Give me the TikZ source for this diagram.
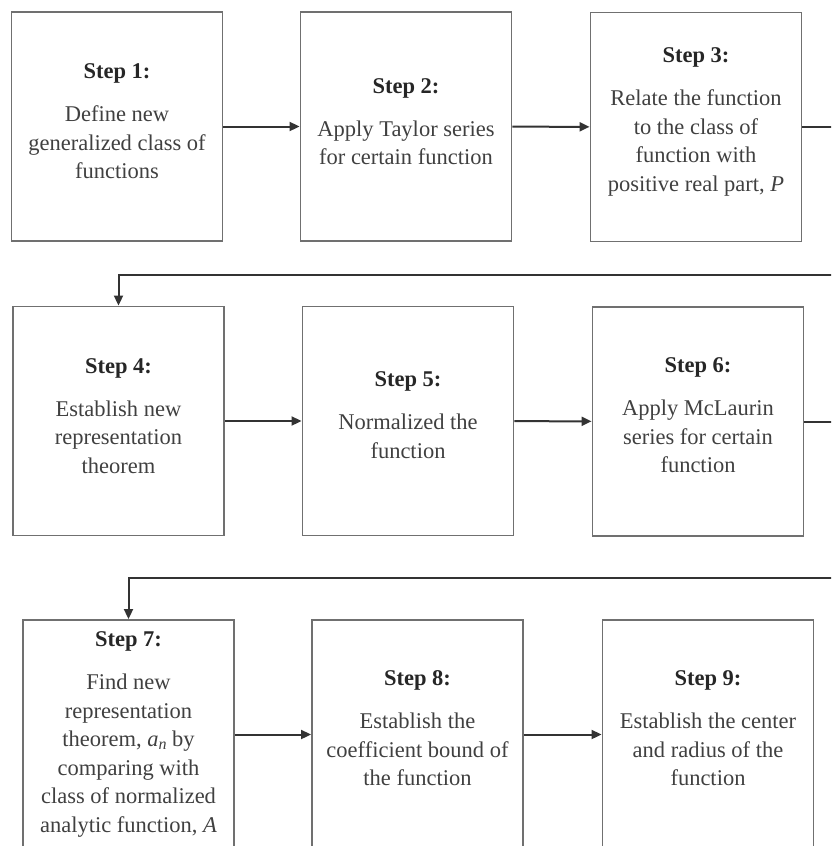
\documentclass[tikz,border=0pt]{standalone}
\usepackage{fontspec}
\setmainfont{Liberation Serif}
\usetikzlibrary{arrows.meta}
\definecolor{boxgray}{HTML}{707070}
\definecolor{linegray}{HTML}{333333}
\definecolor{txtgray}{HTML}{404040}
\definecolor{titlegray}{HTML}{262626}
\newcommand{\steptitle}[1]{\textcolor{titlegray}{\textbf{#1}}\\[14.5pt]}
\newcommand{\subidx}[2]{\textit{#1}\raisebox{-0.3ex}{\fontsize{16}{16}\selectfont\textit{#2}}}
\begin{document}
\begin{tikzpicture}[x=1pt,y=-1pt,
  stepbox/.style={draw=boxgray, line width=1.9pt, minimum width=211pt, minimum height=229pt, inner sep=0pt},
  steptext/.style={align=center, text=txtgray, font=\fontsize{22.5}{28.5}\selectfont, inner sep=0pt},
  conn/.style={draw=linegray, line width=2pt, -{Triangle[length=10pt,width=9pt]}}]
\useasboundingbox (0,0) rectangle (831,846);
\clip (0,0) rectangle (831,846);
% row 1
\node[stepbox] (s1) at (117,126.5) {};
\node[stepbox] (s2) at (406,126.5) {};
\node[stepbox] (s3) at (696,127) {};
% row 2
\node[stepbox] (s4) at (118.5,421) {};
\node[stepbox] (s5) at (408,421) {};
\node[stepbox] (s6) at (698,421.5) {};
% row 3
\node[stepbox] (s7) at (128.5,734.5) {};
\node[stepbox] (s8) at (417.5,734.5) {};
\node[stepbox] (s9) at (708,734.5) {};
% texts
\node[steptext, yshift=5pt] (t1) at (s1) {\steptitle{Step 1:}Define new\\generalized class of\\functions};
\node[steptext, yshift=5pt] (t2) at (s2) {\steptitle{Step 2:}Apply Taylor series\\for certain function};
\node[steptext, yshift=5pt] (t3) at (s3) {\steptitle{Step 3:}Relate the function\\to the class of\\function with\\positive real part, \textit{P}};
\node[steptext, yshift=5pt] (t4) at (s4) {\steptitle{Step 4:}Establish new\\representation\\theorem};
\node[steptext, yshift=6pt] (t5) at (s5) {\steptitle{Step 5:}Normalized the\\function};
\node[steptext, yshift=6pt] (t6) at (s6) {\steptitle{Step 6:}Apply McLaurin\\series for certain\\function};
\node[steptext, yshift=0pt] (t7) at (s7) {\steptitle{Step 7:}Find new\\representation\\theorem, \subidx{a}{n} by\\comparing with\\class of normalized\\analytic function, \textit{A}};
\node[steptext, yshift=6pt] (t8) at (s8) {\steptitle{Step 8:}Establish the\\coefficient bound of\\the function};
\node[steptext, yshift=6pt] (t9) at (s9) {\steptitle{Step 9:}Establish the center\\and radius of the\\function};
% wrap-around coordinates (beyond the right edge)
\coordinate (e1) at (850,274.5);
\coordinate (e2) at (850,578);
% connectors
\draw[conn] (s1) -- (s2);
\draw[conn] (s2) -- (s3);
\draw[conn] (s3.east) -| (e1) -| (s4.north);
\draw[conn] (s4) -- (s5);
\draw[conn] (s5) -- (s6);
\draw[conn] (s6.east) -| (e2) -| (s7.north);
\draw[conn] (s7) -- (s8);
\draw[conn] (s8) -- (s9);
\end{tikzpicture}
\end{document}
